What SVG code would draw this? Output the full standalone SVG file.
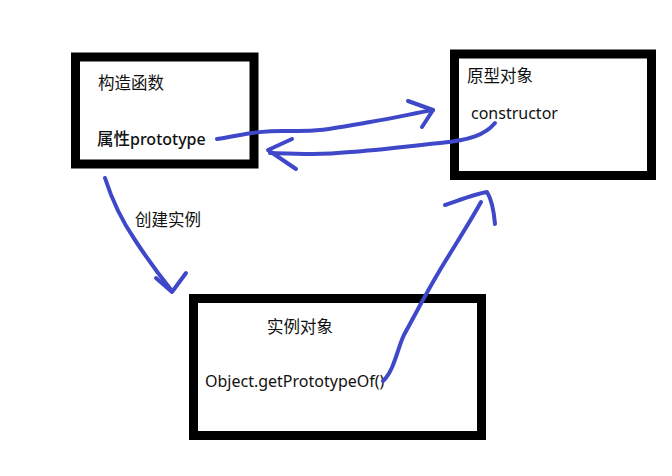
<svg xmlns="http://www.w3.org/2000/svg" width="672" height="476" viewBox="0 0 672 476">
<style>
.box{fill:#fff;stroke:#000;stroke-width:9}
.t{font-family:"Noto Sans","Noto Sans CJK SC",sans-serif;font-size:16px;fill:#111}
.k{font-size:16.5px}
.c{fill:none;stroke:#3f48c8;stroke-width:4;stroke-linecap:round;stroke-linejoin:round}
</style>
<rect width="672" height="476" fill="#fff"/>
<g id="constructor-fn">
<rect class="box" x="75.5" y="57" width="178.5" height="107"/>
<text class="t k" x="98" y="89">构造函数</text>
<text class="t" x="97" y="145" font-weight="500"><tspan class="k">属性</tspan>prototype</text>
</g>
<g id="prototype-obj">
<rect class="box" x="454.5" y="54" width="197" height="121.5"/>
<text class="t k" x="467" y="82">原型对象</text>
<text class="t" x="471" y="119">constructor</text>
</g>
<g id="instance-obj">
<rect class="box" x="193.5" y="298.5" width="288" height="137"/>
<text class="t k" x="267" y="333">实例对象</text>
<text class="t" x="205" y="387">Object.getPrototypeOf()</text>
</g>
<g id="connectors">
<path class="c" d="M217,139 C240,136 255,130 290,131 C320,132 340,127 370,122 C395,118 415,113 433,110"/>
<path class="c" d="M408,101 L433,110 L422,127"/>
<path class="c" d="M495,123 C485,135 470,140 440,143 C410,146 380,150 350,152 C320,155 300,154 270,153"/>
<path class="c" d="M292,139 L268,150 L296,169"/>
<path class="c" d="M105,178 C112,200 120,218 135,240 C148,260 160,276 172,291"/>
<path class="c" d="M156,278 L172,292 L186,273"/>
<text class="t k" x="135" y="226">创建实例</text>
<path class="c" d="M383,381 C395,370 398,345 405,333 C415,315 425,295 440,270 C455,245 470,222 481,202"/>
<path class="c" d="M445,205 C460,200 475,194 487,192 C492,200 494,212 495,224"/>
</g>
</svg>
